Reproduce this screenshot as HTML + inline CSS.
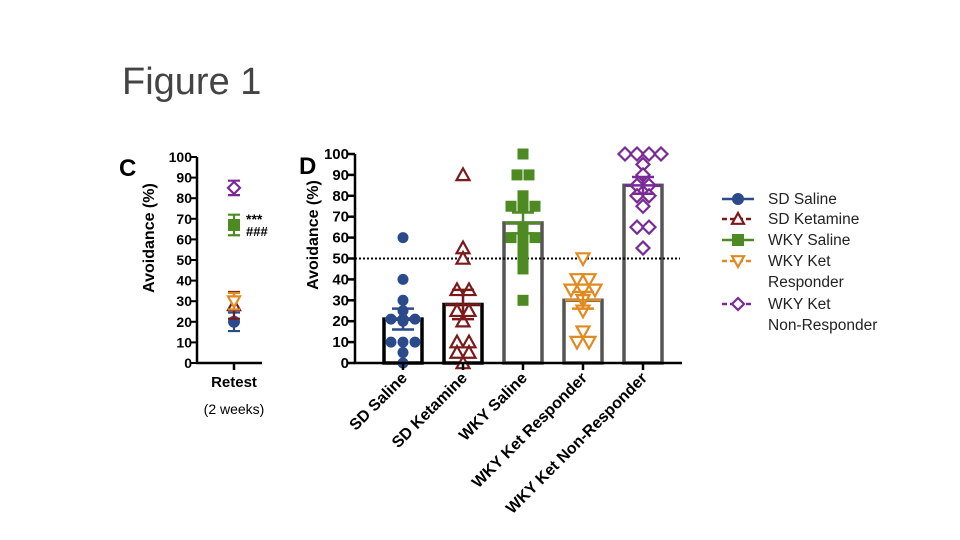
<!DOCTYPE html>
<html><head><meta charset="utf-8"><style>
body{margin:0;background:#fff;}
svg{display:block;font-family:"Liberation Sans",Arial,sans-serif;}
</style></head><body>
<svg id="s" width="960" height="540" viewBox="0 0 960 540">
<text x="122" y="94" font-size="38" fill="#444">Figure 1</text>
<text x="119" y="176" font-size="24" font-weight="bold">C</text>
<text x="299" y="174" font-size="24" font-weight="bold">D</text>
<text transform="translate(154,238) rotate(-90)" text-anchor="middle" font-size="16" font-weight="bold">Avoidance (%)</text>
<text transform="translate(318,235) rotate(-90)" text-anchor="middle" font-size="16" font-weight="bold">Avoidance (%)</text>
<text x="234" y="387" text-anchor="middle" font-size="15" font-weight="bold">Retest</text>
<text x="234" y="414" text-anchor="middle" font-size="14">(2 weeks)</text>
<text x="246" y="224" font-size="14" font-weight="bold">***</text>
<text x="246" y="236" font-size="13" font-weight="bold">###</text>
<g id="gC"></g><g id="gD"></g><g id="gL"></g>
</svg>
<script>
const groups=["SD Saline","SD Ketamine","WKY Saline","WKY Ket Responder","WKY Ket Non-Responder"];
const means=[21,28,67,30,85];
const sems=[5,7,5,4,4];
const retestMeans=[20,28,67,30,85];
const retestSems=[4.5,6.5,5,4,3.5];
const pts0=[60,40,30,25,21,21,21,20,10,10,10,5,0];
const pts1=[90,55,50,35,35,25,25,20,10,10,5,5,0];
const pts2=[100,90,90,80,75,75,75,65,60,60,60,55,50,45,30];
const pts3=[50,40,40,35,35,35,30,25,15,10,10];
const pts4=[100,100,100,100,95,90,85,85,80,80,75,65,65,55];
const yTicks=[0,10,20,30,40,50,60,70,80,90,100];
const threshold=50;
const pts=[pts0,pts1,pts2,pts3,pts4];
const colors=["#2a4a8c","#7a1a1a","#4e8a22","#e08a20","#7a2a96"];
const shapes=["circle","triUp","square","triDown","diamond"];
const NS="http://www.w3.org/2000/svg";
function mk(p,t,a){const e=document.createElementNS(NS,t);for(const k in a)e.setAttribute(k,a[k]);p.appendChild(e);return e;}
function marker(p,shape,x,y,c,r){
  let e;
  if(shape==="circle")e=mk(p,"circle",{cx:x,cy:y,r:r,fill:c});
  else if(shape==="square")e=mk(p,"rect",{x:x-r,y:y-r,width:2*r,height:2*r,fill:c});
  else if(shape==="triUp")e=mk(p,"polygon",{points:`${x},${y-r} ${x+r},${y+r*0.8} ${x-r},${y+r*0.8}`,fill:"#fff",stroke:c,"stroke-width":2.2});
  else if(shape==="triDown")e=mk(p,"polygon",{points:`${x},${y+r} ${x+r},${y-r*0.8} ${x-r},${y-r*0.8}`,fill:"#fff",stroke:c,"stroke-width":2.2});
  else e=mk(p,"polygon",{points:`${x},${y-r} ${x+r},${y} ${x},${y+r} ${x-r},${y}`,fill:"#fff",stroke:c,"stroke-width":2.2});
  return e;
}
// Panel C
const gC=document.getElementById("gC");
const cy=v=>363-v*2.06;
const cAx=197,cX=234;
let e=mk(gC,"path",{d:`M${cAx},${cy(100)}V${cy(0)}H${cAx+65}M${cX},${cy(0)}v7`,stroke:"#000","stroke-width":2.5,fill:"none"});

yTicks.forEach(v=>{
  mk(gC,"line",{x1:cAx-6,x2:cAx,y1:cy(v),y2:cy(v),stroke:"#000","stroke-width":2});
  const t=mk(gC,"text",{x:cAx-5,y:cy(v)+5,"text-anchor":"end","font-size":14,"font-weight":"bold"});t.textContent=v;
  
});
[0,1,3,2,4].forEach(i=>{
  const g=mk(gC,"g",{});
  
  const m=retestMeans[i],s=retestSems[i],c=colors[i];
  mk(g,"path",{d:`M${cX},${cy(m-s)}V${cy(m+s)}M${cX-6},${cy(m-s)}h12M${cX-6},${cy(m+s)}h12`,stroke:c,"stroke-width":2.2,fill:"none"});
  marker(g,shapes[i],cX,cy(m),c,6);
});
// Panel D
const gD=document.getElementById("gD");
const dy=v=>363-v*2.09;
const dx=i=>403+i*60;
const dAx=355;
yTicks.forEach(v=>{
  mk(gD,"line",{x1:dAx-7,x2:dAx,y1:dy(v),y2:dy(v),stroke:"#000","stroke-width":2.5});
  const t=mk(gD,"text",{x:dAx-6,y:dy(v)+5,"text-anchor":"end","font-size":15,"font-weight":"bold"});t.textContent=v;
  
});
groups.forEach((name,i)=>{
  const g=mk(gD,"g",{});
  
  const bc=i<2?"#000":"#555";
  mk(g,"rect",{x:dx(i)-19,y:dy(means[i]),width:38,height:dy(0)-dy(means[i]),fill:"#fff",stroke:bc,"stroke-width":3.5});
});
e=mk(gD,"line",{x1:dAx,x2:680,y1:dy(threshold),y2:dy(threshold),stroke:"#000","stroke-width":2,"stroke-dasharray":"2,2"});

pts.forEach((arr,i)=>{
  const g=mk(gD,"g",{});
  
  const counts={};arr.forEach(v=>counts[v]=(counts[v]||0)+1);
  const seen={};
  arr.forEach(v=>{
    const k=seen[v]||0;seen[v]=k+1;
    const off=(k-(counts[v]-1)/2)*12;
    const m=marker(g,shapes[i],dx(i)+off,dy(v),colors[i],i===2||i===0?5.5:6.5);
    
    
  });
  const m=means[i],s=sems[i],c=colors[i];
  mk(g,"path",{d:`M${dx(i)},${dy(m-s)}V${dy(m+s)}M${dx(i)-11},${dy(m-s)}h22M${dx(i)-11},${dy(m+s)}h22M${dx(i)-18},${dy(m)}h36`,stroke:c,"stroke-width":2.5,fill:"none"});
});
e=mk(gD,"path",{d:`M${dAx},${dy(100)}V${dy(0)}H682`,stroke:"#000","stroke-width":2.5,fill:"none"});

groups.forEach((name,i)=>{
  mk(gD,"line",{x1:dx(i),x2:dx(i),y1:dy(0),y2:dy(0)+7,stroke:"#000","stroke-width":2.5});
  const t=mk(gD,"text",{transform:`translate(${dx(i)+5},${379}) rotate(-45)`,"text-anchor":"end","font-size":16,"font-weight":"bold"});
  t.textContent=name;
  
});
// Legend
const gL=document.getElementById("gL");
const legY=[199,219,240,261,304];
const legText=[["SD Saline"],["SD Ketamine"],["WKY Saline"],["WKY Ket","Responder"],["WKY Ket","Non-Responder"]];
groups.forEach((n,i)=>{
  const g=mk(gL,"g",{});
  
  const y=legY[i],c=colors[i];
  const dash=(i===1||i===3||i===4)?"5,3":"none";
  mk(g,"line",{x1:722,x2:754,y1:y,y2:y,stroke:c,"stroke-width":2.5,"stroke-dasharray":dash});
  marker(g,shapes[i],738,y,c,6);
  legText[i].forEach((s,j)=>{
    const t=mk(g,"text",{x:768,y:y+5+j*21,"font-size":15.5,fill:"#222"});t.textContent=s;
  });
});
</script>
</body></html>
